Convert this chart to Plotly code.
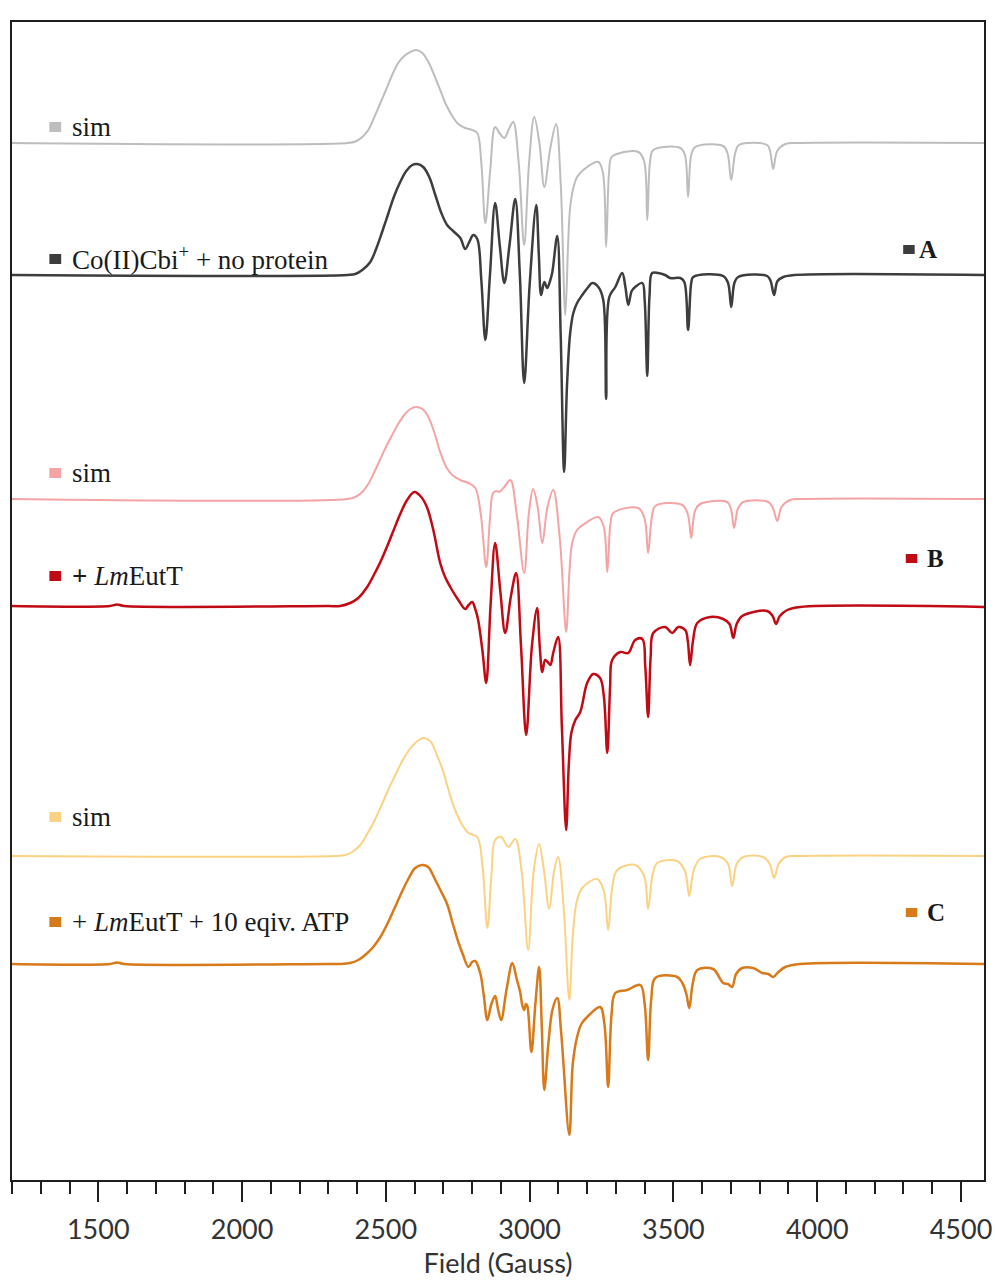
import plotly.graph_objects as go

# ---------------------------------------------------------------------------
# EPR spectra of Co(II)Cbi+ (field in Gauss, derivative intensity in a.u.)
# Each spectrum: field values and intensity relative to its own baseline.
# ---------------------------------------------------------------------------

field_sim_a = [1200, 2367, 2394, 2418, 2439, 2460, 2481, 2502, 2522, 2543, 2564, 2585,
               2606, 2627, 2648, 2668, 2689, 2710, 2731, 2752, 2776, 2800, 2818, 2832,
               2846, 2863, 2880, 2895, 2912, 2928, 2943, 2962, 2981, 2998, 3016, 3034,
               3051, 3072, 3092, 3108, 3124, 3134, 3141, 3152, 3165, 3200, 3239, 3255,
               3266, 3276, 3285, 3315, 3378, 3398, 3409, 3419, 3430, 3524, 3540, 3551,
               3562, 3576, 3673, 3688, 3701, 3715, 3728, 3826, 3836, 3847, 3861, 3889,
               3941, 4580]
int_sim_a = [0, 0, 1.5, 6, 13, 26, 40, 54, 68, 80, 87, 91,
             93, 90, 81, 68, 53, 38, 27, 19, 15, 13, 10, -20,
             -80, -27, 16, 10, 5, 14, 21, -20, -102, -20, 26, 0,
             -44, -5, 19, -40, -172, -100, -64, -45, -34, -24, -19, -30,
             -104, -30, -14, -10, -9, -18, -77, -18, -7, -5, -12, -54,
             -12, -4, -3, -10, -37, -10, -2, -2, -8, -26, -8, -1,
             0, 0]

field_exp_a = [1200, 2367, 2394, 2418, 2446, 2466, 2487, 2508, 2529, 2550, 2571, 2592,
               2609, 2630, 2651, 2672, 2693, 2713, 2734, 2759, 2776, 2790, 2804, 2818,
               2832, 2846, 2862, 2880, 2896, 2912, 2930, 2950, 2966, 2981, 3000, 3023,
               3032, 3040, 3051, 3061, 3072, 3079, 3096, 3108, 3120, 3130, 3141, 3152,
               3165, 3183, 3204, 3218, 3239, 3256, 3266, 3277, 3298, 3322, 3333, 3343,
               3355, 3367, 3392, 3400, 3409, 3417, 3426, 3447, 3471, 3489, 3524, 3538,
               3551, 3562, 3569, 3673, 3690, 3701, 3712, 3725, 3826, 3838, 3850, 3862,
               3882, 3920, 4580]
int_exp_a = [0, 0, 1, 5, 13, 26, 43, 61, 79, 93, 104, 110,
             111, 108, 98, 80, 62, 50, 44, 37, 26, 33, 40, 36,
             -5, -65, 0, 72, 30, -8, 30, 76, 0, -108, -10, 70,
             20, -20, -7, -13, -5, 3, 39, -60, -197, -110, -58, -38,
             -28, -20, -12, -8, -12, -25, -124, -22, -12, 2, -12, -30,
             -16, -12, -8, -25, -101, -20, 2, 2, 0, -3, -3, -7,
             -55, -8, -2, -1, -8, -32, -8, -2, -1, -6, -20, -6,
             -2, 0, 0]

field_sim_b = [1200, 2367, 2394, 2418, 2439, 2460, 2481, 2502, 2522, 2543, 2564, 2585,
               2606, 2627, 2648, 2668, 2689, 2710, 2731, 2759, 2787, 2811, 2830, 2849,
               2862, 2873, 2885, 2894, 2912, 2933, 2955, 2981, 2997, 3012, 3028, 3044,
               3062, 3082, 3105, 3127, 3138, 3148, 3165, 3200, 3239, 3258, 3270, 3281,
               3291, 3378, 3400, 3412, 3425, 3437, 3531, 3550, 3562, 3575, 3593, 3687,
               3700, 3711, 3724, 3743, 3830, 3846, 3861, 3876, 3906, 3950, 4580]
int_sim_b = [0, 0, 2, 7, 15, 27, 40, 53, 64, 75, 84, 90,
             92, 90, 82, 67, 47, 32, 24, 19, 16, 11, -15, -68,
             -20, 6, 8, 7, 12, 19, -15, -74, -15, 10, -8, -44,
             -8, 9, -40, -133, -75, -44, -31, -23, -18, -28, -73, -25,
             -14, -9, -20, -54, -18, -7, -6, -15, -39, -12, -5, -3,
             -10, -29, -10, -3, -3, -9, -22, -8, -1, 0, 0]

field_exp_b = [1200, 1540, 1565, 1590, 2300, 2341, 2376, 2404, 2435, 2460, 2481, 2505,
               2526, 2550, 2574, 2599, 2623, 2644, 2665, 2689, 2706, 2724, 2752, 2776,
               2788, 2800, 2812, 2821, 2836, 2849, 2864, 2880, 2898, 2915, 2935, 2953,
               2970, 2988, 3008, 3026, 3035, 3044, 3054, 3063, 3072, 3082, 3099, 3112,
               3127, 3136, 3145, 3159, 3176, 3200, 3221, 3245, 3258, 3270, 3280, 3287,
               3315, 3343, 3367, 3392, 3402, 3412, 3421, 3430, 3471, 3496, 3517, 3541,
               3550, 3558, 3568, 3583, 3628, 3673, 3695, 3708, 3720, 3739, 3826, 3845,
               3857, 3870, 3896, 3941, 4580]
int_exp_b = [0, 0, 1.5, 0, 0, 0, 3, 8, 19, 32, 44, 60,
             75, 92, 106, 114, 109, 98, 76, 43, 29, 19, 6, -3,
             1, 4, -4, -14, -45, -77, 0, 63, 15, -27, 10, 33,
             -40, -129, -40, -2, -40, -66, -54, -56, -59, -47, -31, -120,
             -224, -160, -127, -114, -106, -77, -68, -72, -90, -147, -80, -54,
             -46, -47, -34, -33, -60, -111, -50, -27, -21, -27, -21, -24,
             -35, -59, -35, -17, -11, -13, -18, -32, -18, -10, -5, -10,
             -18, -10, -4, -1, -1]

field_sim_c = [1200, 2324, 2359, 2383, 2411, 2435, 2460, 2484, 2508, 2533, 2557, 2581,
               2606, 2630, 2654, 2679, 2700, 2720, 2741, 2766, 2787, 2818, 2836, 2853,
               2868, 2880, 2901, 2926, 2950, 2972, 2995, 3014, 3033, 3050, 3068, 3085,
               3099, 3118, 3138, 3150, 3165, 3186, 3235, 3258, 3273, 3288, 3305, 3367,
               3398, 3412, 3428, 3444, 3513, 3540, 3555, 3570, 3593, 3663, 3690, 3704,
               3720, 3743, 3812, 3835, 3850, 3866, 3890, 3950, 4580]
int_sim_c = [0, 0, 1, 4, 11, 22, 35, 50, 66, 81, 95, 106,
             114, 118, 115, 100, 84, 64, 46, 31, 23, 19, -10, -72,
             -15, 16, 19, 9, 17, -15, -94, -15, 12, -15, -53, -15,
             -1, -50, -144, -80, -44, -31, -23, -35, -74, -30, -14, -9,
             -20, -53, -18, -7, -5, -15, -40, -15, -3, -1, -8, -30,
             -8, -1, -1, -8, -22, -8, -1, 0, 0]

field_exp_c = [1200, 1540, 1565, 1590, 2300, 2341, 2376, 2404, 2432, 2456, 2481, 2505,
               2529, 2554, 2578, 2602, 2626, 2647, 2672, 2693, 2713, 2734, 2752, 2766,
               2787, 2800, 2811, 2828, 2840, 2853, 2867, 2880, 2890, 2901, 2920, 2940,
               2955, 2967, 2975, 2981, 2987, 2992, 3006, 3020, 3033, 3042, 3051, 3065,
               3080, 3096, 3110, 3138, 3150, 3165, 3180, 3200, 3245, 3260, 3273, 3285,
               3298, 3339, 3385, 3400, 3412, 3423, 3437, 3513, 3531, 3545, 3555, 3567,
               3583, 3638, 3673, 3690, 3704, 3718, 3739, 3777, 3809, 3830, 3847, 3865,
               3889, 3941, 4580]
int_exp_c = [0, 0, 1.5, 0, 0, 0, 1, 4, 10, 17, 27, 40,
             55, 71, 85, 96, 99, 97, 84, 72, 60, 39, 22, 11,
             -3, 2, 3, -9, -30, -56, -40, -32, -45, -56, -25, 1,
             -15, -28, -42, -46, -40, -42, -88, -40, -3, -60, -126, -80,
             -45, -34, -70, -171, -100, -73, -60, -53, -43, -60, -123, -50,
             -29, -26, -21, -40, -96, -35, -14, -13, -19, -30, -44, -20,
             -6, -5, -19, -20, -23, -10, -4, -4, -9, -10, -13, -8,
             -3, 0, 0]

# vertical offsets used to stack the spectra (a.u.)
offsets = [1037, 905, 681, 574, 324, 216]

spectra = [
    (field_sim_a, int_sim_a, "#bdbdbd", 2.0),
    (field_exp_a, int_exp_a, "#3d3d3d", 2.5),
    (field_sim_b, int_sim_b, "#f4a4a4", 2.0),
    (field_exp_b, int_exp_b, "#c00a14", 2.5),
    (field_sim_c, int_sim_c, "#fbd283", 2.0),
    (field_exp_c, int_exp_c, "#d8791a", 2.5),
]

left_labels = ["sim", "Co(II)Cbi<sup>+</sup> + no protein",
               "sim", "<b>+</b> <i>Lm</i>EutT",
               "sim", "+ <i>Lm</i>EutT + 10 eqiv. ATP"]
left_label_y = [1053, 922, 707, 604, 363, 258]
panel_labels = ["A", "B", "C"]
panel_label_y = [931, 622, 268]
panel_colors = ["#3d3d3d", "#c00a14", "#d8791a"]

fig = go.Figure()
for (fx, fy, color, width), off in zip(spectra, offsets):
    fig.add_trace(go.Scatter(
        x=fx, y=[off + v for v in fy], mode="lines",
        line=dict(color=color, width=width, shape="spline", smoothing=1.0),
        hoverinfo="skip", showlegend=False))

serif = "Liberation Serif, Times New Roman, serif"
shapes = []
annotations = []
for (fx, fy, color, width), text, ly in zip(spectra, left_labels, left_label_y):
    sq_y = ly - 1 if ly == 922 else ly
    shapes.append(dict(type="rect", xref="x", yref="y", x0=1330, x1=1371,
                       y0=sq_y - 5, y1=sq_y + 5, fillcolor=color, line_width=0, layer="above"))
    annotations.append(dict(x=1400, y=ly, xref="x", yref="y", text=text, showarrow=False,
                            xanchor="left", yanchor="middle",
                            font=dict(family=serif, size=27, color="#1a1a1a")))

for i, (lab, ly, color) in enumerate(zip(panel_labels, panel_label_y, panel_colors)):
    sx0 = 4299 if i == 0 else 4308
    shapes.append(dict(type="rect", xref="x", yref="y", x0=sx0, x1=sx0 + 40,
                       y0=ly - 5, y1=ly + 4, fillcolor=color, line_width=0, layer="above"))
    annotations.append(dict(x=sx0 + (48 if i == 0 else 66), y=ly, xref="x", yref="y",
                            text=f"<b>{lab}</b>", showarrow=False,
                            xanchor="left", yanchor="middle",
                            font=dict(family=serif, size=25, color="#1a1a1a")))

axis_color = "#1e1e1e"
fig.update_layout(
    width=995, height=1281,
    margin=dict(l=12, r=11, t=22, b=101),
    plot_bgcolor="white", paper_bgcolor="white",
    showlegend=False,
    shapes=shapes, annotations=annotations,
    xaxis=dict(
        range=[1200, 4580], automargin=False,
        showline=True, linecolor=axis_color, linewidth=2,
        mirror=True, ticks="outside", ticklen=20, tickwidth=1.6, tickcolor=axis_color,
        tick0=1500, dtick=500, showgrid=False, zeroline=False,
        ticklabelstandoff=5,
        tickfont=dict(family="Lato, Open Sans, sans-serif", size=27, color="#333333"),
        minor=dict(ticks="outside", dtick=100, ticklen=12, tickwidth=1.6,
                   tickcolor=axis_color, showgrid=False),
        title=dict(text="Field (Gauss)", standoff=10,
                   font=dict(family="Lato, Open Sans, sans-serif", size=27, color="#333333")),
    ),
    yaxis=dict(
        range=[0, 1158], automargin=False,
        showline=True, linecolor=axis_color, linewidth=2, mirror=True,
        showticklabels=False, ticks="", showgrid=False, zeroline=False,
    ),
)

fig.write_html("out.html")
